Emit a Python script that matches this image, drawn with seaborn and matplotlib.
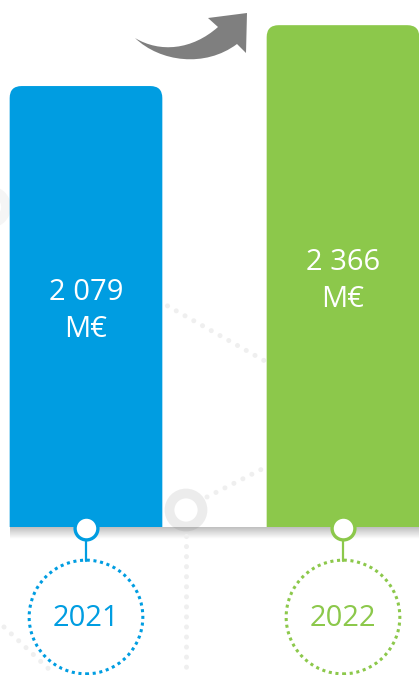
import numpy as np
import seaborn as sns
import matplotlib.pyplot as plt
from matplotlib.patches import FancyBboxPatch, Circle, PathPatch
from matplotlib.path import Path

# data
years = ['2021', '2022']
values = [2079, 2366]
value_labels = ['2 079\nM€', '2 366\nM€']
colors = ['#009de1', '#8cc84b']

sns.set_style('white')
plt.rcParams['font.family'] = ['Open Sans', 'DejaVu Sans']

W, H = 419, 675
BASE = 527          # pixel row of the bar baseline
PX_PER_UNIT = 0.2121

fig = plt.figure(figsize=(W / 100, H / 100), dpi=100)

# background decoration layer, pixel coords (y down)
deco = fig.add_axes([0, 0, 1, 1])
deco.axis('off')

light = '#efefef'
dot_kw = dict(color=light, lw=3.6, linestyle=(0, (0.01, 2.0)), dash_capstyle='round')
deco.plot([186, 186], [536, 675], **dot_kw)
deco.plot([207, 272], [497, 464], **dot_kw)
deco.plot([150, 272], [296, 365], **dot_kw)
deco.plot([4, 52], [627, 672], **dot_kw)
deco.add_patch(Circle((186, 510), 16.5, fc='none', ec='#ececec', lw=7))
deco.add_patch(Circle((-10, 207), 16, fc='none', ec='#f5f5f5', lw=7))

# shadow under the bars
grad = np.zeros((20, 1, 4))
grad[..., :3] = 0.45
grad[:, 0, 3] = np.linspace(0.45, 0.0, 20)
deco.imshow(grad, extent=[10, 419, 539, 527], aspect='auto', interpolation='bilinear', zorder=1)

# curved arrow
verts = [(135, 38), (160, 62), (205, 68), (237, 44),
         (246, 53), (247, 13), (208, 18), (218, 27),
         (192, 50), (160, 53), (135, 38), (135, 38)]
codes = [Path.MOVETO, Path.CURVE4, Path.CURVE4, Path.CURVE4,
         Path.LINETO, Path.LINETO, Path.LINETO, Path.LINETO,
         Path.CURVE4, Path.CURVE4, Path.CURVE4, Path.CLOSEPOLY]
deco.add_patch(PathPatch(Path(verts, codes), fc='#7f7f7f', ec='none', zorder=3))

deco.set_xlim(0, W)
deco.set_ylim(H, 0)

# bars
ax = fig.add_axes([0, (H - BASE) / H, 1, BASE / H])
ax.set_zorder(2)
ax.patch.set_alpha(0)
sns.barplot(x=years, y=values, hue=years, palette=colors, width=0.594,
            saturation=1, legend=False, ax=ax)
ax.set_xlim(-86 / 257, (W - 86) / 257)
ax.set_ylim(0, BASE / PX_PER_UNIT)
ax.axis('off')

x_per_px = (ax.get_xlim()[1] - ax.get_xlim()[0]) / W
y_per_px = ax.get_ylim()[1] / BASE
radius = 12 * x_per_px
for p in list(ax.patches):
    x0, w, h = p.get_x(), p.get_width(), p.get_height()
    fc = p.get_facecolor()
    p.remove()
    ax.add_patch(FancyBboxPatch((x0, -400), w, h + 400,
                                boxstyle=f'round,pad=0,rounding_size={radius}',
                                mutation_aspect=y_per_px / x_per_px,
                                fc=fc, ec='none'))

xt = ax.get_xaxis_transform()
for i, (yr, v, lab, c) in enumerate(zip(years, values, value_labels, colors)):
    ax.text(i, v * 0.49, lab, ha='center', va='center', color='white',
            fontsize=21, linespacing=1.35)
    ax.plot([i, i], [-10 / BASE, -34 / BASE], color=c, lw=1.6,
            transform=xt, clip_on=False, zorder=4)
    ax.scatter([i], [-1 / BASE], s=270, facecolor='white', edgecolor=c,
               linewidth=2.4, transform=xt, clip_on=False, zorder=5)
    ax.scatter([i], [-90 / BASE], s=6700, facecolor='none', edgecolor=c,
               linewidth=2.2, linestyle=(0, (1, 1.2)), transform=xt,
               clip_on=False, zorder=5)
    ax.text(i, -91 / BASE, yr, ha='center', va='center', color=c,
            fontsize=21, transform=xt)

fig.savefig('out.png', dpi=100)
